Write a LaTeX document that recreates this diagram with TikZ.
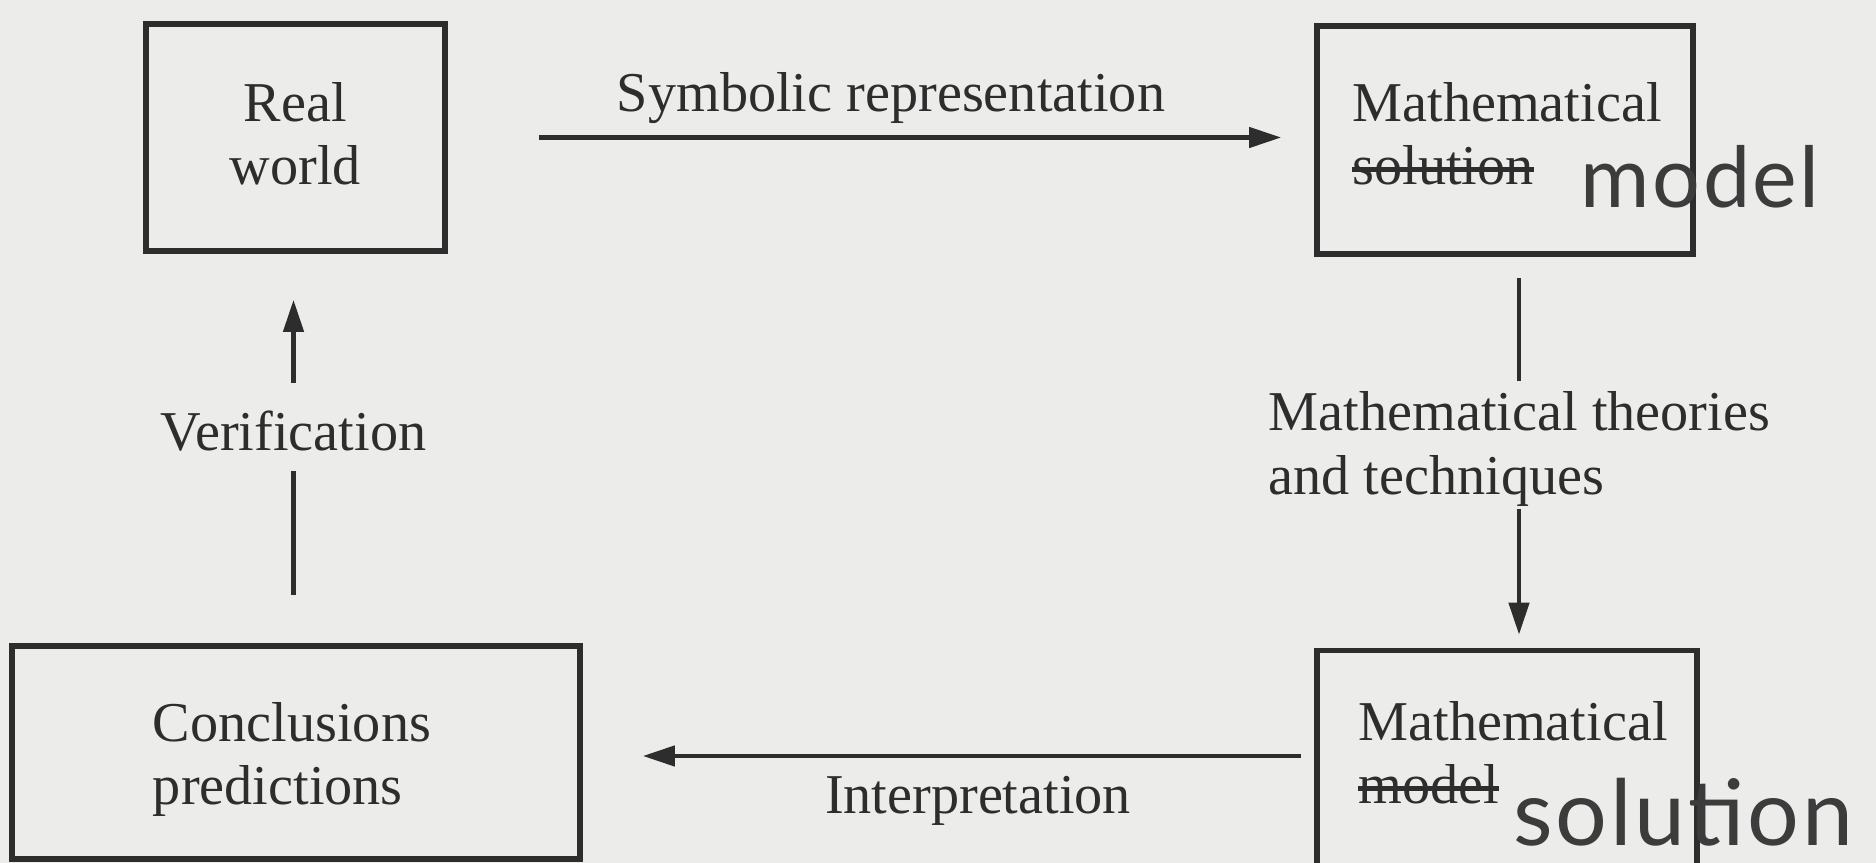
\documentclass[tikz,border=0pt]{standalone}
\usepackage{fontspec}
\setmainfont{Liberation Serif}
\newfontfamily\handfont{Lato}[LetterSpace=3]
\usetikzlibrary{arrows.meta}
\definecolor{paper}{RGB}{236,236,234}
\definecolor{ink}{RGB}{45,45,45}
\definecolor{pen}{RGB}{60,60,60}
\newsavebox\strikebx
\newcommand\struck[1]{\sbox\strikebx{#1}\rlap{\rule[0.22em]{\wd\strikebx}{1.6pt}}\usebox\strikebx}
\begin{document}
\begin{tikzpicture}[
  font=\fontsize{16}{18}\selectfont,
  boxnode/.style={draw=ink, line width=1.6pt, rectangle, inner sep=0pt},
  txt/.style={text=ink, align=left, inner sep=0pt},
  hand/.style={text=pen, inner sep=0pt},
  conn/.style={draw=ink, line width=1.25pt},
  arr/.style={conn, -{Triangle[length=0.32cm,width=0.2cm]}},
]
\useasboundingbox (0,0) rectangle (18.76,8.63);
\fill[paper] (0,0) rectangle (18.76,8.63);

% boxes
\node[boxnode, minimum width=2.99cm, minimum height=2.27cm] (rw) at (2.955,7.255) {};
\node[txt, align=center] (rwt) at (2.955,7.29) {Real\\world};

\node[boxnode, minimum width=3.76cm, minimum height=2.28cm] (tr) at (15.05,7.23) {};
\node[txt] (trt) at (15.07,7.29) {Mathematical\\\struck{solution}};
\node[hand, anchor=base west, font=\handfont\fontsize{24}{24}\selectfont] (trh) at (15.8,6.55) {model};

\node[boxnode, minimum width=3.80cm, minimum height=2.25cm] (br) at (15.07,1.0) {};
\node[txt] (brt) at (15.13,1.10) {Mathematical\\\struck{model}};
\node[hand, anchor=base west, font=\handfont\fontsize{26}{26}\selectfont] (brh) at (15.13,0.18) {solution};

\node[boxnode, minimum width=5.68cm, minimum height=2.13cm] (cp) at (2.96,1.105) {};
\node[txt] (cpt) at (2.92,1.035) {Conclusions\\predictions};

% labels
\node[txt] (sym) at (8.91,7.65) {Symbolic representation};
\node[txt] (interp) at (9.78,0.62) {Interpretation};
\node[txt, anchor=west] (mtt) at (12.68,4.14) {Mathematical theories\\and techniques};
\node[txt] (ver) at (2.935,4.32) {Verification};

\coordinate (vx) at (15.19,0);
\coordinate (iy) at (0,1.07);

% connectors
\draw[arr, shorten <=0.91cm, shorten >=0.33cm] (rw.east) -- (rw.east -| tr.west);
\draw[conn, shorten <=0.21cm, shorten >=0.1cm] (tr.south -| vx) -- (mtt.north -| vx);
\draw[arr, shorten <=0.02cm, shorten >=0.13cm] (mtt.south -| vx) -- (br.north -| vx);
\draw[arr, shorten <=0.13cm, shorten >=0.60cm] (br.west |- iy) -- (cp.east |- iy);
\draw[conn, shorten <=0.48cm, shorten >=0.19cm] (cp.north -| ver) -- (ver.south);
\draw[arr, shorten <=0.27cm, shorten >=0.46cm] (ver.north) -- (rw.south -| ver);
\end{tikzpicture}
\end{document}
